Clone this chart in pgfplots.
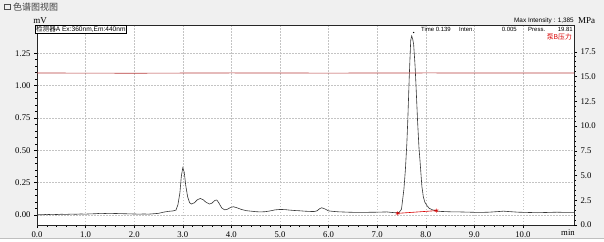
\documentclass[border=0pt]{standalone}
\usepackage{pgfplots}
\pgfplotsset{compat=1.18}
\usepackage{fontspec}
\setmainfont{Liberation Serif}
\newfontfamily\sans{Liberation Sans}
\newfontfamily\cjk{Noto Sans CJK SC}
\definecolor{bg}{HTML}{F0F0F0}
\definecolor{gridc}{HTML}{C4C4C4}
\definecolor{press}{HTML}{B83C3C}
\definecolor{trace}{HTML}{363636}
\begin{document}
\begin{tikzpicture}[x=1pt,y=1pt]
\useasboundingbox (0,0) rectangle (604,241);
\fill[bg] (0,0) rectangle (604,241);
\fill[white] (37,16) rectangle (574,216);
\fill[white] (0,0) rectangle (604,2.5);
\draw[black!25,line width=0.4pt] (0,2.8) -- (604,2.8);
\pgfplotsset{
  myax/.style={at={(37pt,16pt)}, anchor=south west, scale only axis,
    width=537pt, height=200pt, xmin=0, xmax=11.05,
    tick align=outside, major tick length=3pt, minor tick length=1.8pt,
    tick style={black, line width=0.4pt},
    ticklabel style={font=\fontsize{8.7}{10}\selectfont},
    /pgf/number format/assume math mode=true},
}
\begin{axis}[myax,
  ymin=-0.077, ymax=1.468,
  axis line style={black!85, line width=0.6pt},
  xtick={0,1,2,3,4,5,6,7,8,9,10},
  ytick={0,0.25,0.5,0.75,1.0,1.25},
  minor x tick num=4, minor y tick num=4,
  xtick pos=bottom, ytick pos=left,
  x tick label style={/pgf/number format/.cd, fixed, fixed zerofill, precision=1},
  y tick label style={/pgf/number format/.cd, fixed, fixed zerofill, precision=2},
  grid=major, grid style={gridc, dash pattern=on 1.5pt off 1.5pt, line width=0.45pt},
]
\addplot[trace, line width=0.6pt] table {
x y
0.00 0.003
0.10 0.002
0.20 0.005
0.30 0.003
0.40 0.004
0.50 0.006
0.60 0.005
0.70 0.007
0.80 0.006
0.90 0.008
1.00 0.007
1.10 0.009
1.20 0.010
1.30 0.013
1.40 0.012
1.50 0.013
1.60 0.012
1.70 0.011
1.80 0.010
1.90 0.009
2.00 0.008
2.10 0.007
2.20 0.008
2.30 0.007
2.40 0.010
2.50 0.013
2.60 0.022
2.70 0.028
2.80 0.032
2.86 0.038
2.90 0.080
2.94 0.170
2.97 0.300
3.00 0.365
3.03 0.330
3.06 0.230
3.10 0.140
3.14 0.095
3.18 0.085
3.24 0.095
3.30 0.118
3.36 0.128
3.42 0.118
3.48 0.098
3.55 0.085
3.60 0.092
3.66 0.113
3.70 0.116
3.74 0.095
3.80 0.055
3.86 0.040
3.92 0.045
3.98 0.058
4.04 0.064
4.10 0.058
4.20 0.044
4.30 0.034
4.40 0.030
4.50 0.026
4.60 0.024
4.70 0.026
4.80 0.032
4.90 0.040
5.00 0.043
5.10 0.042
5.20 0.038
5.30 0.035
5.40 0.033
5.50 0.030
5.60 0.028
5.70 0.027
5.76 0.032
5.82 0.050
5.86 0.056
5.92 0.048
6.00 0.032
6.10 0.028
6.20 0.025
6.40 0.022
6.60 0.020
6.80 0.021
7.00 0.022
7.20 0.024
7.30 0.020
7.40 0.017
7.45 0.020
7.50 0.045
7.55 0.200
7.58 0.348
7.61 0.550
7.63 0.734
7.66 1.070
7.69 1.350
7.71 1.383
7.73 1.360
7.75 1.320
7.78 1.150
7.80 0.990
7.83 0.734
7.86 0.520
7.88 0.425
7.92 0.220
7.95 0.140
7.98 0.100
8.02 0.075
8.07 0.052
8.14 0.040
8.20 0.033
8.30 0.028
8.50 0.025
8.70 0.024
8.90 0.022
9.10 0.020
9.30 0.022
9.50 0.027
9.60 0.030
9.70 0.027
9.90 0.022
10.10 0.020
10.30 0.018
10.50 0.020
10.70 0.022
10.90 0.020
11.05 0.020
};
\addplot[red!85!black, line width=0.6pt, mark=asterisk, mark size=2pt,
  mark options={line width=0.5pt}] coordinates {(7.42,0.013) (8.22,0.034)};
\addplot[only marks, mark=*, mark size=0.45pt, black] coordinates {(7.75,1.41)};
\end{axis}
\begin{axis}[myax,
  ymin=0, ymax=20.2,
  axis x line=none, axis y line*=right,
  axis line style={black!85, line width=0.6pt},
  ytick={0,2.5,5,7.5,10,12.5,15,17.5},
  minor y tick num=4,
  y tick label style={/pgf/number format/.cd, fixed, fixed zerofill, precision=1},
]
\addplot[press, line width=0.65pt] coordinates {(0,15.35) (2,15.33) (4,15.36) (6,15.34) (8,15.36) (11.05,15.35)};
\end{axis}
% texts
\draw[black!70, line width=0.5pt] (4,232) rectangle (10,237);
\fill[black!70] (4,235.5) rectangle (10,237);
\node[anchor=west, inner sep=0pt, text=black!75, font=\cjk\fontsize{9}{10}\selectfont] at (13,234) {色谱图视图};
\node[anchor=center, inner sep=0pt, font=\fontsize{9}{10}\selectfont] at (40,220.5) {mV};
\node[anchor=west, inner sep=0pt, font=\fontsize{9}{10}\selectfont] at (578,220) {MPa};
\node[anchor=east, inner sep=0pt, font=\sans\fontsize{6.4}{7}\selectfont] at (574,220.5) {Max Intensity : 1,385};
\node[anchor=north west, draw=black, fill=white, line width=0.5pt, inner xsep=0.8pt, inner ysep=0.3pt,
  font=\sans\fontsize{6.6}{7}\selectfont] at (35,215.5) {{\cjk 检测器}A Ex:360nm,Em:440nm};
\begin{scope}[every node/.style={inner sep=0pt, font=\sans\fontsize{6}{7}\selectfont}]
\node[anchor=west] at (421,211.5) {Time};
\node[anchor=east] at (451,211.5) {0.139};
\node[anchor=west] at (459,211.5) {Inten.};
\node[anchor=east] at (517,211.5) {0.005};
\node[anchor=west] at (528,211.5) {Press.};
\node[anchor=east] at (573,211.5) {19.81};
\end{scope}
\node[anchor=east, inner sep=0pt, text=red!85!black, font=\cjk\fontsize{6.8}{7}\selectfont] at (572,204) {泵B压力};
\node[anchor=center, inner sep=0pt, font=\fontsize{8.7}{10}\selectfont] at (568,8) {min};
\end{tikzpicture}
\end{document}
